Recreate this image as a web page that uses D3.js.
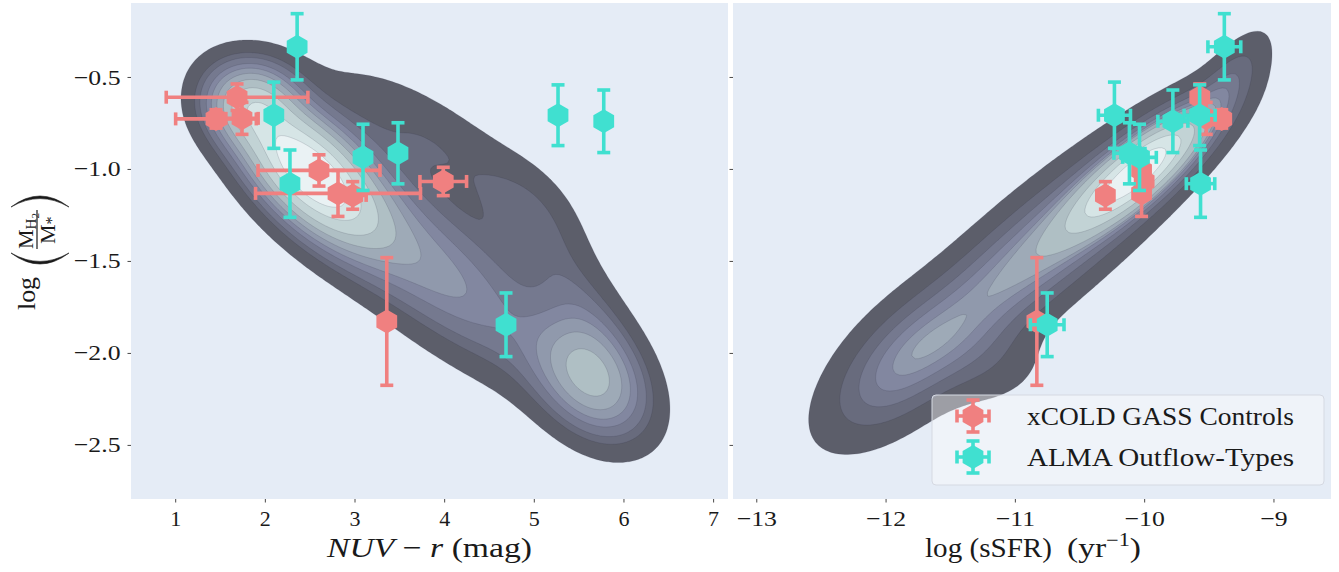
<!DOCTYPE html>
<html><head><meta charset="utf-8">
<script src="https://cdn.jsdelivr.net/npm/d3@7"></script>
<style>
body{margin:0;background:#fff;}
svg{display:block;}
text{font-family:"Liberation Serif","DejaVu Serif",serif;fill:#1a1a1a;}
</style>
</head><body>
<svg id="chart" width="1339" height="572"></svg>
<script>
// ---------------- data ----------------
const seriesNames = ["xCOLD GASS Controls", "ALMA Outflow-Types"];

// xCOLD GASS controls
const controlsLogRatio    = [-0.61, -0.728, -0.725, -1.008, -1.133, -1.144, -1.068, -1.829];
const controlsLogRatioErr = [0.072, 0.05, 0.087, 0.085, 0.125, 0.075, 0.077, 0.347];
const controlsNUVr        = [1.69, 1.455, 1.745, 2.604, 2.816, 2.98, 3.99, 3.36];
const controlsNUVrErr     = [0.79, 0.45, 0.18, 0.68, 0.92, 0.15, 0.26, 0.04];
const controlsSSFR        = [-9.57, -9.40, -9.52, -10.02, -10.02, -10.30, -10.0, -10.83];
const controlsSSFRErr     = [0.04, 0.04, 0.04, 0.04, 0.04, 0.04, 0.04, 0.04];

// ALMA outflow-types
const outflowLogRatio    = [-0.336, -0.708, -1.08, -0.937, -0.915, -0.708, -0.741, -1.847];
const outflowLogRatioErr = [0.18, 0.18, 0.183, 0.18, 0.166, 0.165, 0.17, 0.173];
const outflowNUVr        = [2.36, 2.10, 2.28, 3.095, 3.485, 5.27, 5.78, 4.69];
const outflowNUVrErr     = [0, 0, 0, 0, 0, 0, 0, 0];
const outflowSSFR        = [-9.38, -10.23, -9.564, -10.036, -10.114, -9.571, -9.778, -10.75];
const outflowSSFRErr     = [0.127, 0.124, 0.11, 0.13, 0.12, 0.12, 0.116, 0.13];

// background population density (KDE) read as gaussian components: [x, y, sx, sy, rho, weight]
const nuvrDensityComponents = [
  [2.481, -1.008, 0.529, 0.258, -0.60, 0.38],
  [3.842, -1.526, 0.990, 0.410, -0.779, 0.30],
  [5.627, -2.142, 0.413, 0.218, -0.35, 0.13],
  [1.834, -0.627, 0.335, 0.147, 0.0, 0.07],
  [3.842, -0.845, 0.816, 0.287, -0.75, 0.07],
  [4.902, -1.253, 0.390, 0.191, -0.30, 0.02],
  [5.515, -1.717, 0.459, 0.337, -0.726, 0.05]
];
const ssfrDensityComponents = [
  [-10.032, -1.008, 0.337, 0.205, 0.821, 0.32],
  [-10.806, -1.444, 0.726, 0.439, 0.880, 0.45],
  [-11.889, -2.071, 0.343, 0.241, 0.54, 0.11],
  [-11.231, -2.043, 0.309, 0.163, 0.0, 0.03],
  [-9.336, -0.518, 0.179, 0.162, 0.70, 0.02]
];

// ticks
const yTicks = [-0.5, -1.0, -1.5, -2.0, -2.5];
const nuvrTicks = [1, 2, 3, 4, 5, 6, 7];
const ssfrTicks = [-13, -12, -11, -10, -9];

// ---------------- style ----------------
const COLORS = {controls: "#f08080", outflow: "#40e0d0"};
const BG = "#e5ecf6";
const bandColors = ["#5c5e6a","#686b7d","#75798f","#8287a0","#9099ac","#9eaab7","#afbfc4","#c2d3d5","#d6e5e6","#eaf2f4"];

const svg = d3.select("#chart");
const panelTop = 3, panelBottom = 499;
const yScale = d3.scaleLinear().domain([-2.794, -0.098]).range([panelBottom, panelTop]);
const xLeft = d3.scaleLinear().domain([0.507, 7.166]).range([131, 728]);
const xRight = d3.scaleLinear().domain([-13.18, -8.555]).range([733, 1331]);

const fmt = v => (v < 0 ? "\u2212" : "") + Math.abs(v);
const fmtY = v => (v < 0 ? "\u2212" : "") + Math.abs(v).toFixed(1);

function mixture(comps, x, y) {
  let s = 0;
  for (const [mx, my, sx, sy, r, w] of comps) {
    const dx = (x - mx) / sx, dy = (y - my) / sy, q = 1 - r * r;
    s += w / (sx * sy * Math.sqrt(q)) * Math.exp(-(dx * dx - 2 * r * dx * dy + dy * dy) / (2 * q));
  }
  return s;
}

function drawPanel(id, xs, comps) {
  const [x0, x1] = xs.domain(), [y0, y1] = yScale.domain();
  const g = svg.append("g");
  g.append("clipPath").attr("id", "clip" + id).append("rect")
    .attr("x", xs.range()[0]).attr("y", panelTop)
    .attr("width", xs.range()[1] - xs.range()[0]).attr("height", panelBottom - panelTop);
  g.append("rect").attr("x", xs.range()[0]).attr("y", panelTop)
    .attr("width", xs.range()[1] - xs.range()[0]).attr("height", panelBottom - panelTop)
    .attr("fill", BG);
  const nx = 300, ny = 240;
  const gx0 = x0 - 0.3 * (x1 - x0), gx1 = x1 + 0.3 * (x1 - x0);
  const gy0 = y0 - 0.3 * (y1 - y0), gy1 = y1 + 0.3 * (y1 - y0);
  const sx = (gx1 - gx0) / (nx - 1), sy = (gy1 - gy0) / (ny - 1);
  const vals = new Float64Array(nx * ny);
  for (let j = 0; j < ny; j++) for (let i = 0; i < nx; i++)
    vals[j * nx + i] = mixture(comps, gx0 + i * sx, gy1 - j * sy);
  const sorted = Float64Array.from(vals).sort().reverse();
  const total = d3.sum(sorted);
  const cum = new Float64Array(sorted.length);
  let acc = 0;
  for (let k = 0; k < sorted.length; k++) { acc += sorted[k]; cum[k] = acc / total; }
  const nb = bandColors.length;
  const levels = d3.range(nb).map(k => {
    const q = 0.05 + k * (0.95 / nb);
    const idx = d3.bisectLeft(cum, 1 - q);
    return sorted[Math.min(idx, sorted.length - 1)];
  });
  const contours = d3.contours().size([nx, ny]).thresholds(levels)(Array.from(vals));
  const path = d3.geoPath(d3.geoTransform({
    point: function(x, y) { this.stream.point(xs(gx0 + (x - 0.5) * sx), yScale(gy1 - (y - 0.5) * sy)); }
  }));
  g.append("g").attr("clip-path", `url(#clip${id})`)
    .selectAll("path").data(contours).join("path")
    .attr("d", path)
    .attr("fill", (d, i) => bandColors[i])
    .attr("stroke", "rgba(40,42,60,0.25)").attr("stroke-width", 0.6);
  return g;
}

const gL = drawPanel("L", xLeft, nuvrDensityComponents);
const gR = drawPanel("R", xRight, ssfrDensityComponents);

function hexPath(r) {
  return d3.range(6).map(k => {
    const a = Math.PI / 2 + k * Math.PI / 3;
    return [r * Math.cos(a), -r * Math.sin(a)];
  }).map((p, i) => (i ? "L" : "M") + p[0].toFixed(2) + "," + p[1].toFixed(2)).join("") + "Z";
}
const HEX = hexPath(12);
const BAR_W = 3.6, CAP = 6.5;

function drawSeries(g, xs, xv, xe, yv, ye, color) {
  const s = g.append("g");
  const pts = xv.map((x, i) => ({x, xe: xe[i], y: yv[i], ye: ye[i]}));
  const bars = s.append("g").attr("stroke", color).attr("stroke-width", BAR_W).attr("fill", "none");
  pts.forEach(p => {
    const cx = xs(p.x), cy = yScale(p.y);
    if (p.xe > 0) {
      const a = xs(p.x - p.xe), b = xs(p.x + p.xe);
      bars.append("line").attr("x1", a).attr("x2", b).attr("y1", cy).attr("y2", cy);
      [a, b].forEach(e => bars.append("line").attr("x1", e).attr("x2", e).attr("y1", cy - CAP).attr("y2", cy + CAP));
    }
    if (p.ye > 0) {
      const a = yScale(p.y + p.ye), b = yScale(p.y - p.ye);
      bars.append("line").attr("x1", cx).attr("x2", cx).attr("y1", a).attr("y2", b);
      [a, b].forEach(e => bars.append("line").attr("x1", cx - CAP).attr("x2", cx + CAP).attr("y1", e).attr("y2", e));
    }
  });
  s.append("g").selectAll("path").data(pts).join("path")
    .attr("d", HEX).attr("fill", color)
    .attr("transform", p => `translate(${xs(p.x)},${yScale(p.y)})`);
}

drawSeries(gL, xLeft, controlsNUVr, controlsNUVrErr, controlsLogRatio, controlsLogRatioErr, COLORS.controls);
drawSeries(gL, xLeft, outflowNUVr, outflowNUVrErr, outflowLogRatio, outflowLogRatioErr, COLORS.outflow);
drawSeries(gR, xRight, controlsSSFR, controlsSSFRErr, controlsLogRatio, controlsLogRatioErr, COLORS.controls);
drawSeries(gR, xRight, outflowSSFR, outflowSSFRErr, outflowLogRatio, outflowLogRatioErr, COLORS.outflow);

// ---------------- axes ----------------
function styleAxis(a) {
  a.select(".domain").remove();
  a.selectAll(".tick line").attr("stroke", "#333").attr("stroke-width", 0.9);
  a.selectAll(".tick text").attr("font-size", 22).attr("fill", "#1a1a1a")
    .attr("font-family", '"Liberation Serif", serif')
    .each(function() {
      const sel = d3.select(this);
      if (sel.text().startsWith("\u2212")) {
        const w = this.getComputedTextLength();
        sel.attr("textLength", (w * 1.17).toFixed(1)).attr("lengthAdjust", "spacingAndGlyphs");
      }
    });
}
const axL = svg.append("g").attr("transform", `translate(0,${panelBottom})`)
  .call(d3.axisBottom(xLeft).tickValues(nuvrTicks).tickFormat(fmt).tickSize(3.5).tickPadding(8));
styleAxis(axL);
const axR = svg.append("g").attr("transform", `translate(0,${panelBottom})`)
  .call(d3.axisBottom(xRight).tickValues(ssfrTicks).tickFormat(fmt).tickSize(3.5).tickPadding(8));
styleAxis(axR);
const ayL = svg.append("g").attr("transform", `translate(${xLeft.range()[0]},0)`)
  .call(d3.axisLeft(yScale).tickValues(yTicks).tickFormat(fmtY).tickSize(3.5).tickPadding(7));
styleAxis(ayL);
const ayR = svg.append("g").attr("transform", `translate(${xRight.range()[0]},0)`)
  .call(d3.axisLeft(yScale).tickValues(yTicks).tickFormat("").tickSize(3.5));
styleAxis(ayR);

// x titles
const tL = svg.append("text").attr("x", 327).attr("y", 557).attr("font-size", 28)
  .attr("textLength", 205).attr("lengthAdjust", "spacingAndGlyphs");
tL.append("tspan").attr("font-style", "italic").text("NUV");
tL.append("tspan").text(" \u2212 ");
tL.append("tspan").attr("font-style", "italic").text("r");
tL.append("tspan").text(" (mag)");

const tR = svg.append("g");
tR.append("text").attr("x", 925).attr("y", 557).attr("font-size", 27)
  .attr("textLength", 127).attr("lengthAdjust", "spacingAndGlyphs").text("log (sSFR)");
const tR2 = tR.append("text").attr("x", 1067).attr("y", 557).attr("font-size", 27)
  .attr("textLength", 74).attr("lengthAdjust", "spacingAndGlyphs");
tR2.append("tspan").text("(yr");
tR2.append("tspan").attr("font-size", 18).attr("dy", -11).text("\u22121");
tR2.append("tspan").attr("dy", 11).text(")");

// y title (rotated)
const yt = svg.append("g").attr("transform", "translate(42,252) rotate(-90)");
yt.append("text").attr("x", -58).attr("y", -7).attr("font-size", 25)
  .attr("textLength", 33).attr("lengthAdjust", "spacingAndGlyphs").text("log");
function paren(u0, bulge, v0, v1, thick) {
  const vm = (v0 + v1) / 2;
  return `M${u0},${v0} Q${u0 + 2 * bulge},${vm} ${u0},${v1} Q${u0 + 2 * (bulge - thick)},${vm} ${u0},${v0} Z`;
}
yt.append("path").attr("d", paren(-1, -11, -31, 27, -2.6)).attr("fill", "#1a1a1a").attr("stroke", "#1a1a1a").attr("stroke-width", 0.6);
yt.append("path").attr("d", paren(45, 11, -31, 27, 2.6)).attr("fill", "#1a1a1a").attr("stroke", "#1a1a1a").attr("stroke-width", 0.6);
yt.append("line").attr("x1", 3).attr("x2", 42).attr("y1", -5).attr("y2", -5).attr("stroke", "#1a1a1a").attr("stroke-width", 1.2);
const num = yt.append("text").attr("x", 3).attr("y", -9).attr("font-size", 22);
num.append("tspan").text("M");
num.append("tspan").attr("font-size", 15).attr("dy", 3).text("H");
num.append("tspan").attr("font-size", 11).attr("dy", 3).text("2");
const den = yt.append("text").attr("x", 8).attr("y", 13).attr("font-size", 22);
den.append("tspan").text("M");
den.append("tspan").attr("font-size", 16).attr("dy", 2).text("*");

// ---------------- legend ----------------
const lg = svg.append("g");
lg.append("rect").attr("x", 932).attr("y", 395).attr("width", 392).attr("height", 90).attr("rx", 4)
  .attr("fill", "rgba(255,255,255,0.4)").attr("stroke", "#d5d9e2").attr("stroke-width", 1);
const legendItems = [
  {name: seriesNames[0], color: COLORS.controls, y: 416},
  {name: seriesNames[1], color: COLORS.outflow, y: 457}
];
legendItems.forEach(it => {
  const m = lg.append("g").attr("transform", `translate(973,${it.y})`);
  const L = 16;
  m.append("line").attr("x1", -L).attr("x2", L).attr("y1", 0).attr("y2", 0).attr("stroke", it.color).attr("stroke-width", BAR_W);
  m.append("line").attr("x1", 0).attr("x2", 0).attr("y1", -L).attr("y2", L).attr("stroke", it.color).attr("stroke-width", BAR_W);
  [-L, L].forEach(e => {
    m.append("line").attr("x1", e).attr("x2", e).attr("y1", -CAP).attr("y2", CAP).attr("stroke", it.color).attr("stroke-width", BAR_W);
    m.append("line").attr("x1", -CAP).attr("x2", CAP).attr("y1", e).attr("y2", e).attr("stroke", it.color).attr("stroke-width", BAR_W);
  });
  m.append("path").attr("d", HEX).attr("fill", it.color);
  lg.append("text").attr("x", 1027).attr("y", it.y + 9).attr("font-size", 26)
    .attr("textLength", it.name.length > 19 ? 285 : 267).attr("lengthAdjust", "spacingAndGlyphs")
    .text(it.name);
});
</script>
</body></html>
